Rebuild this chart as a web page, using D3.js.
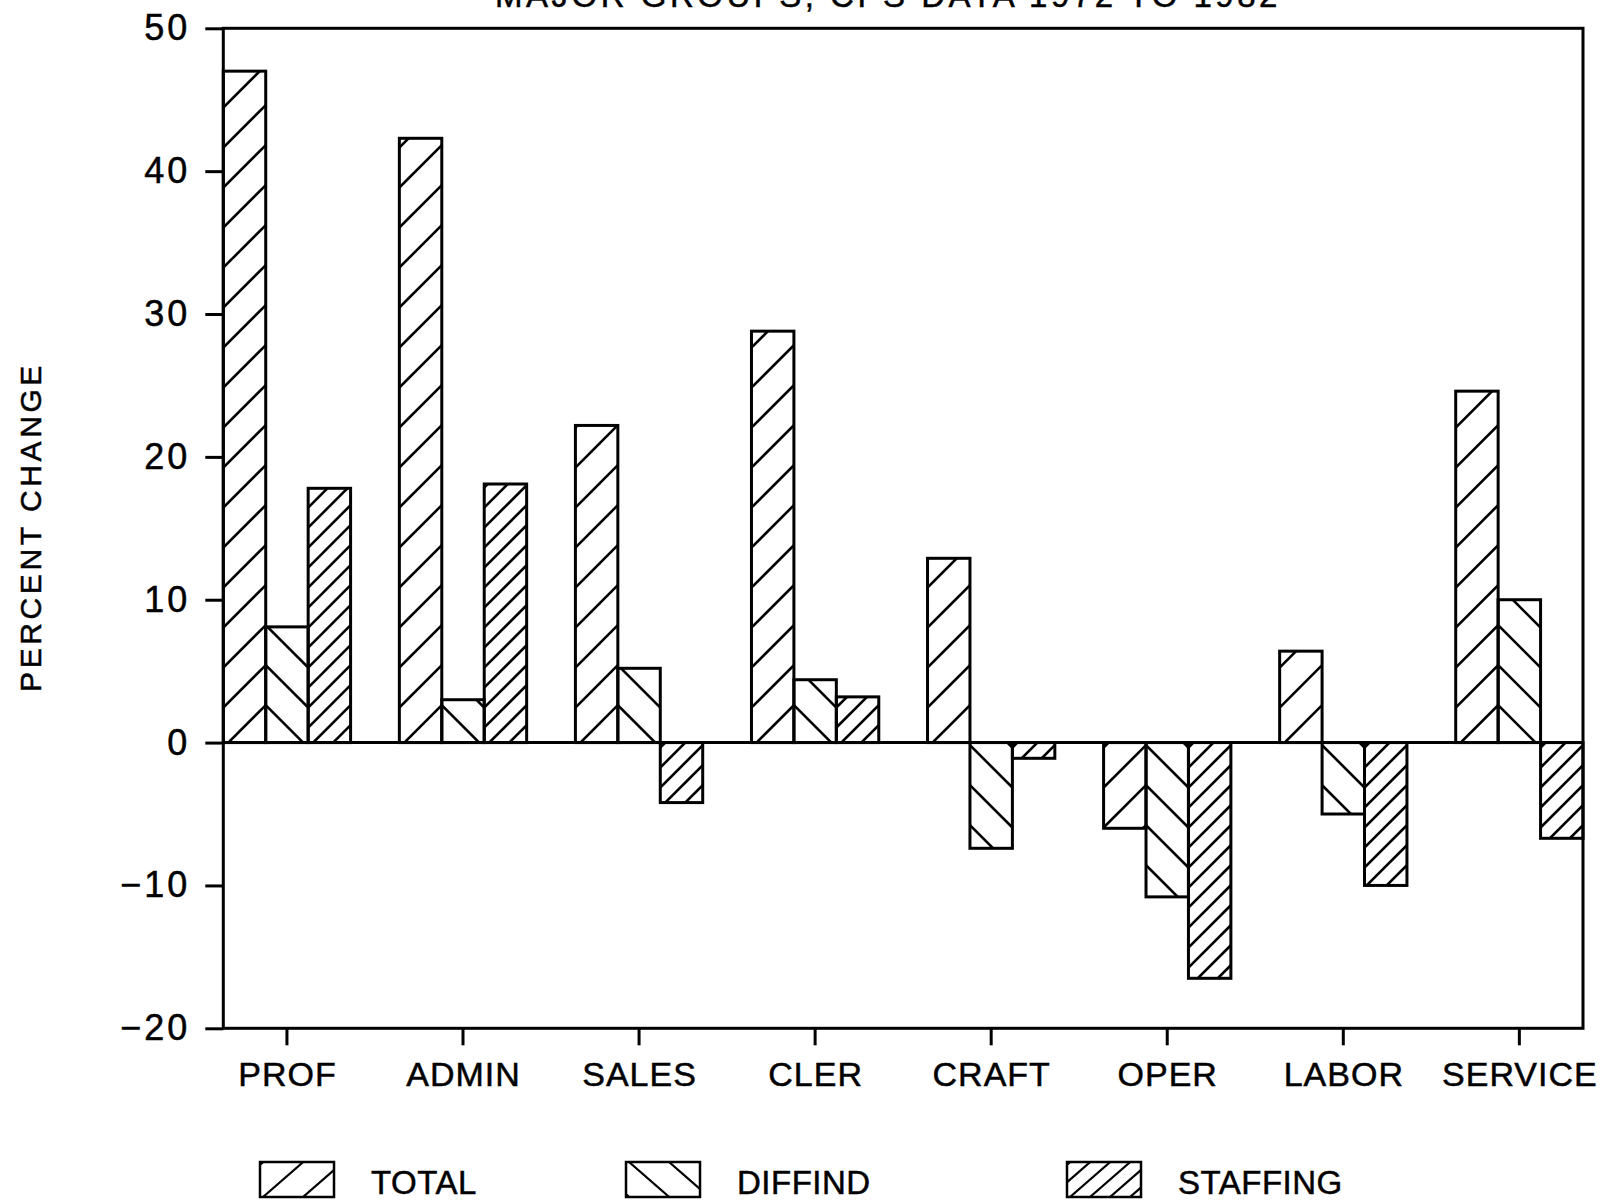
<!DOCTYPE html>
<html>
<head>
<meta charset="utf-8">
<script src="https://cdn.jsdelivr.net/npm/d3@7"></script>
<style>
  html, body { margin: 0; padding: 0; background: #fff; }
  svg { display: block; }
  text { font-family: "Liberation Sans", Arial, Helvetica, sans-serif; fill: #000; stroke: #000; stroke-width: 0.5px; }
</style>
</head>
<body>
<svg id="chart" width="1601" height="1201"></svg>
<script>
// Occupational employment change by major group, 1972–1982 (CPS data)
const categories = ["PROF", "ADMIN", "SALES", "CLER", "CRAFT", "OPER", "LABOR", "SERVICE"];
const seriesNames = ["TOTAL", "DIFFIND", "STAFFING"];
const totalValues    = [47.0, 42.3, 22.2, 28.8, 12.9, -6.0,   6.4, 24.6];
const diffindValues  = [ 8.1,  3.0,  5.2,  4.4, -7.4, -10.8, -5.0, 10.0];
const staffingValues = [17.8, 18.1, -4.2,  3.2, -1.1, -16.5, -10.0, -6.7];
const yTickValues = [-20, -10, 0, 10, 20, 30, 40, 50];
const titleText = "MAJOR GROUPS, CPS DATA 1972 TO 1982";
const yAxisTitle = "PERCENT CHANGE";

const seriesValues = [totalValues, diffindValues, staffingValues];

// hatch style for each series: direction (+1 "/", -1 "\"), spacing in px
const hatch = [
  { dir: 1,  period: 40 },
  { dir: -1, period: 40 },
  { dir: 1,  period: 20 }
];
const hatchOffset = 5;

const svg = d3.select("#chart");

const plot = { left: 223.3, right: 1583, top: 28.3, bottom: 1028.3 };

const x = d3.scaleBand()
  .domain(categories)
  .range([plot.left, plot.right])
  .paddingInner(0.277)
  .paddingOuter(0);

const xs = d3.scaleBand()
  .domain(seriesNames)
  .range([0, x.bandwidth()])
  .padding(0);

const y = d3.scaleLinear()
  .domain([-20, 50])
  .range([plot.bottom, plot.top]);

const y0 = y(0);

// clip paths + hatch lines inside each bar
const defs = svg.append("defs");

const bars = [];
categories.forEach((c, ci) => {
  seriesNames.forEach((s, si) => {
    const v = seriesValues[si][ci];
    bars.push({ cat: c, series: s, si, value: v, id: `bar-${ci}-${si}` });
  });
});

bars.forEach(b => {
  b.x = x(b.cat) + xs(b.series);
  b.w = xs.bandwidth();
  b.yTop = Math.min(y(b.value), y0);
  b.yBot = Math.max(y(b.value), y0);
  defs.append("clipPath").attr("id", "clip-" + b.id)
    .append("rect")
    .attr("x", b.x).attr("y", b.yTop)
    .attr("width", b.w).attr("height", b.yBot - b.yTop);
});

// hatch segments across a box, phased from a reference line yRef
function hatchSegments(L, w, yt, yb, yRef, dir, P, off) {
  const segs = [];
  const kMin = Math.floor((yt - yRef - off) / P) - 2;
  const kMax = Math.ceil((yb - yRef - off + w) / P) + 2;
  for (let k = kMin; k <= kMax; k++) {
    const base = yRef + off + k * P;
    if (dir > 0) {
      segs.push([L, base, L + w, base - w]);
    } else {
      segs.push([L, base - w, L + w, base]);
    }
  }
  return segs;
}

const barG = svg.append("g").attr("class", "bars");

bars.forEach(b => {
  const h = hatch[b.si];
  // same phase for TOTAL and DIFFIND so the strokes meet in chevrons
  const segs = hatchSegments(b.x, b.w, b.yTop, b.yBot, y0, h.dir, h.period, hatchOffset);
  const g = barG.append("g").attr("clip-path", `url(#clip-${b.id})`);
  g.selectAll("line").data(segs).join("line")
    .attr("x1", d => d[0]).attr("y1", d => d[1])
    .attr("x2", d => d[2]).attr("y2", d => d[3])
    .attr("stroke", "#000").attr("stroke-width", 2.6);
});

barG.selectAll("rect.outline").data(bars).join("rect")
  .attr("class", "outline")
  .attr("x", d => d.x).attr("y", d => d.yTop)
  .attr("width", d => d.w).attr("height", d => d.yBot - d.yTop)
  .attr("fill", "none").attr("stroke", "#000").attr("stroke-width", 3);

// frame
svg.append("rect")
  .attr("x", plot.left).attr("y", plot.top)
  .attr("width", plot.right - plot.left).attr("height", plot.bottom - plot.top)
  .attr("fill", "none").attr("stroke", "#000").attr("stroke-width", 3);

// zero line
svg.append("line")
  .attr("x1", plot.left).attr("x2", plot.right)
  .attr("y1", y0).attr("y2", y0)
  .attr("stroke", "#000").attr("stroke-width", 3);

// y axis
const yAxis = d3.axisLeft(y)
  .tickValues(yTickValues)
  .tickSize(18)
  .tickSizeOuter(0)
  .tickPadding(18);

const yg = svg.append("g").attr("transform", `translate(${plot.left},0)`).call(yAxis);
yg.select(".domain").remove();
yg.selectAll(".tick line").attr("stroke", "#000").attr("stroke-width", 3);
yg.selectAll(".tick text")
  .attr("font-size", 36)
  .attr("letter-spacing", 3)
  .attr("dx", 3)
  .attr("font-family", "Liberation Sans, Arial, sans-serif")
  .attr("fill", "#000");

// x axis
const xAxis = d3.axisBottom(x).tickSize(17).tickSizeOuter(0).tickPadding(17);
const xg = svg.append("g").attr("transform", `translate(0,${plot.bottom})`).call(xAxis);
xg.select(".domain").remove();
xg.selectAll(".tick line").attr("stroke", "#000").attr("stroke-width", 3);
xg.selectAll(".tick text")
  .attr("font-size", 34)
  .attr("letter-spacing", 1)
  .attr("dx", 0.5)
  .attr("font-family", "Liberation Sans, Arial, sans-serif")
  .attr("fill", "#000");

// y axis title
svg.append("text")
  .attr("transform", `translate(41,527) rotate(-90)`)
  .attr("text-anchor", "middle")
  .attr("font-size", 30)
  .attr("letter-spacing", 3.6)
  .text(yAxisTitle);

// chart title (second line, running off the top edge)
svg.append("text")
  .attr("x", 888).attr("y", 7)
  .attr("text-anchor", "middle")
  .attr("font-size", 33)
  .attr("letter-spacing", 3.5)
  .text(titleText);

// legend
const legendX = [260, 626, 1067];
const legendBox = { w: 74, h: 35, y: 1162 };
const legend = svg.append("g").attr("class", "legend");
seriesNames.forEach((s, si) => {
  const L = legendX[si];
  const g = legend.append("g");
  const cid = "clip-legend-" + si;
  defs.append("clipPath").attr("id", cid).append("rect")
    .attr("x", L).attr("y", legendBox.y).attr("width", legendBox.w).attr("height", legendBox.h);
  const h = hatch[si];
  const yb = legendBox.y + legendBox.h;
  const segs = [];
  // key box hatching: evenly spaced strokes along the bottom edge
  const n = Math.ceil((legendBox.w + legendBox.h * 2) / h.period) + 2;
  for (let k = -n; k <= n; k++) {
    const a = L + 3 + k * h.period;
    if (h.dir > 0) segs.push([a, yb, a + legendBox.h * 1.15, legendBox.y]);
    else segs.push([a, legendBox.y, a + legendBox.h * 1.15, yb]);
  }
  g.append("g").attr("clip-path", `url(#${cid})`)
    .selectAll("line").data(segs).join("line")
    .attr("x1", d => d[0]).attr("y1", d => d[1])
    .attr("x2", d => d[2]).attr("y2", d => d[3])
    .attr("stroke", "#000").attr("stroke-width", 2.2);
  g.append("rect")
    .attr("x", L).attr("y", legendBox.y)
    .attr("width", legendBox.w).attr("height", legendBox.h)
    .attr("fill", "none").attr("stroke", "#000").attr("stroke-width", 2.5);
  g.append("text")
    .attr("x", L + 111).attr("y", 1194)
    .attr("font-size", 33)
    .attr("letter-spacing", 0.5)
    .text(s);
});
</script>
</body>
</html>
